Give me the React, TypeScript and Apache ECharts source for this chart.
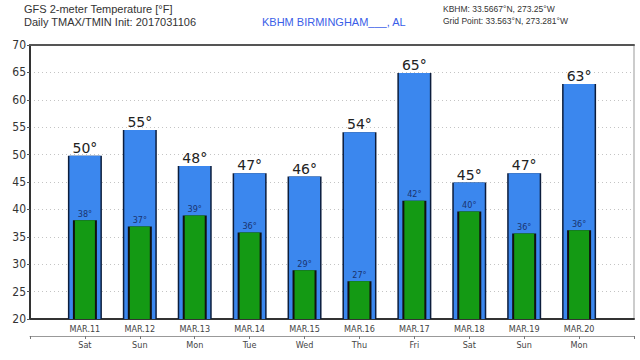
import React, { useEffect, useRef } from "react";
import * as echarts from "echarts";

const dates = ["MAR.11", "MAR.12", "MAR.13", "MAR.14", "MAR.15", "MAR.16", "MAR.17", "MAR.18", "MAR.19", "MAR.20"];
const days = ["Sat", "Sun", "Mon", "Tue", "Wed", "Thu", "Fri", "Sat", "Sun", "Mon"];
const tmax = [49.8, 54.5, 47.9, 46.6, 46.0, 54.1, 64.9, 44.9, 46.6, 62.9];
const tmin = [38.0, 36.9, 38.9, 35.8, 28.9, 26.9, 41.6, 39.6, 35.6, 36.2];
const yTicks = { min: 20, max: 70, interval: 5 };

const FONT = "'Liberation Sans Narrow', 'DejaVu Sans Condensed', 'Open Sans', sans-serif";
const TFONT = "'Liberation Sans', Arial, sans-serif";

export default function App() {
  const ref = useRef<HTMLDivElement>(null);
  useEffect(() => {
    document.body.style.margin = "0";
    if (!ref.current) return;
    const chart = echarts.init(ref.current, null, { renderer: "svg" });
    const xBase = { type: "value" as const, min: -1, max: 10, interval: 1, splitLine: { show: false } };
    const pts = (arr: number[]) => arr.map((v, i) => [i, v]);
    const t = (text: string, left: number, top: number, fontSize: number, lineHeight: number, color = "#333") => ({
      text,
      left,
      top,
      padding: 0,
      textStyle: { fontSize, lineHeight, fontWeight: "normal", color, fontFamily: TFONT },
    });
    chart.setOption({
      animation: false,
      backgroundColor: "#ffffff",
      title: [
        t("GFS 2-meter Temperature [°F]", 24, 3, 11, 12),
        t("Daily TMAX/TMIN Init: 2017031106", 24, 16, 11, 12),
        t("KBHM BIRMINGHAM___, AL", 262, 16, 11, 12, "#3a5ee8"),
        t("KBHM: 33.5667°N, 273.25°W", 443, 4, 8.5, 10),
        t("Grid Point: 33.563°N, 273.281°W", 443, 16, 8.5, 10),
      ],
      grid: { left: 30, right: 6, top: 45, bottom: 41, show: true, borderColor: "#999", borderWidth: 1 },
      xAxis: [
        {
          ...xBase,
          position: "bottom",
          axisLine: { show: true, onZero: false, lineStyle: { color: "#333", width: 2 } },
          axisTick: { show: false },
          axisLabel: {
            fontSize: 9,
            color: "#444",
            margin: 5,
            fontFamily: FONT,
            formatter: (v: number) => dates[v] ?? "",
          },
        },
        {
          ...xBase,
          position: "bottom",
          offset: 17,
          axisLine: { show: true, onZero: false, lineStyle: { color: "#999", width: 1 } },
          axisTick: { show: true, length: 3, lineStyle: { color: "#777" } },
          axisLabel: {
            fontSize: 9,
            color: "#444",
            margin: 4,
            fontFamily: FONT,
            formatter: (v: number) => days[v] ?? "",
          },
        },
        { ...xBase, position: "bottom", show: false },
        { ...xBase, position: "bottom", show: false },
        {
          ...xBase,
          position: "top",
          axisLine: { show: true, onZero: false, lineStyle: { color: "#555", width: 2 } },
          axisTick: { show: false },
          axisLabel: { show: false },
        },
      ],
      yAxis: {
        type: "value",
        min: yTicks.min,
        max: yTicks.max,
        interval: yTicks.interval,
        axisLine: { show: true, onZero: false, lineStyle: { color: "#333", width: 2 } },
        axisTick: { show: true, length: 3, lineStyle: { color: "#555" } },
        axisLabel: { fontSize: 12, color: "#333", margin: 4, fontFamily: FONT },
        splitLine: { show: true, lineStyle: { color: "#c4c4c4", type: [1, 3], width: 1 } },
      },
      series: [
        {
          type: "bar",
          xAxisIndex: 0,
          barWidth: 34,
          data: pts(tmax),
          itemStyle: { color: "#0c1d3c" },
          silent: true,
        },
        {
          type: "bar",
          xAxisIndex: 1,
          barWidth: 31,
          data: pts(tmax),
          itemStyle: { color: "#3b87ee" },
          label: {
            show: true,
            position: "top",
            distance: 1,
            fontSize: 14,
            color: "#222",
            fontFamily: "'DejaVu Sans', sans-serif",
            formatter: (p: any) => Math.round(p.value[1]) + "°",
          },
        },
        {
          type: "bar",
          xAxisIndex: 2,
          barWidth: 24,
          data: pts(tmin),
          itemStyle: { color: "#111111" },
          silent: true,
        },
        {
          type: "bar",
          xAxisIndex: 3,
          barWidth: 20,
          data: pts(tmin),
          itemStyle: { color: "#149a14" },
          label: {
            show: true,
            position: "top",
            distance: 2,
            fontSize: 9,
            color: "#1a3470",
            fontFamily: FONT,
            formatter: (p: any) => Math.round(p.value[1]) + "°",
          },
        },
      ],
    });
    return () => chart.dispose();
  }, []);
  return <div ref={ref} style={{ width: 640, height: 360 }} />;
}
